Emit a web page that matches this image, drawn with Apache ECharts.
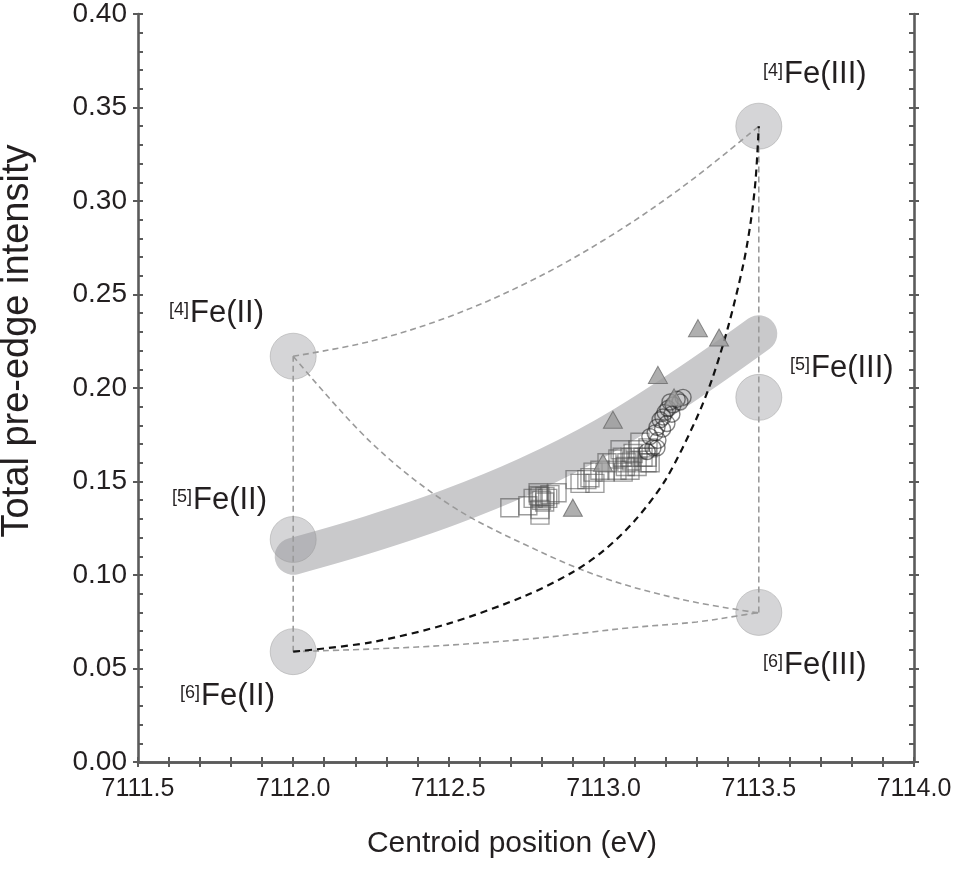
<!DOCTYPE html>
<html>
<head>
<meta charset="utf-8">
<script src="https://cdn.jsdelivr.net/npm/echarts@6/dist/echarts.min.js"></script>
<style>
html,body{margin:0;padding:0;background:#fff;}
#c{width:968px;height:874px;}
</style>
</head>
<body>
<div id="c"></div>
<script>
// ---------- data ----------
const endmemberNames = ['[4]Fe(II)', '[5]Fe(II)', '[6]Fe(II)', '[4]Fe(III)', '[5]Fe(III)', '[6]Fe(III)'];
const endmemberX = [7112.0, 7112.0, 7112.0, 7113.5, 7113.5, 7113.5];
const endmemberY = [0.217, 0.119, 0.059, 0.340, 0.195, 0.080];

// broad grey trend band
const bandX = [7112.0, 7112.25, 7112.5, 7112.75, 7113.0, 7113.25, 7113.5];
const bandY = [0.110, 0.122, 0.136, 0.153, 0.174, 0.200, 0.229];

// mixing lines (grey dashed)
const mix4II_4III_X = [7112.0, 7112.25, 7112.5, 7112.75, 7113.0, 7113.25, 7113.5];
const mix4II_4III_Y = [0.217, 0.225, 0.238, 0.256, 0.279, 0.307, 0.340];
const mix4II_6III_X = [7112.0, 7112.25, 7112.5, 7112.75, 7113.0, 7113.25, 7113.5];
const mix4II_6III_Y = [0.217, 0.171, 0.138, 0.116, 0.0985, 0.087, 0.0797];
const mix6II_6III_X = [7112.0, 7112.4, 7112.76, 7113.08, 7113.30, 7113.43, 7113.5];
const mix6II_6III_Y = [0.059, 0.0615, 0.0658, 0.0717, 0.0749, 0.0781, 0.080];
const edgeIIX = [7112.0, 7112.0];
const edgeIIY = [0.059, 0.217];
const edgeIIIX = [7113.5, 7113.5];
const edgeIIIY = [0.080, 0.340];
// mixing line (black dashed)
const mix6II_4III_X = [7112.0, 7112.25, 7112.5, 7112.75, 7112.9, 7113.0, 7113.1, 7113.2, 7113.3, 7113.35, 7113.4, 7113.45, 7113.475, 7113.49, 7113.5];
const mix6II_4III_Y = [0.059, 0.064, 0.074, 0.089, 0.1015, 0.113, 0.129, 0.151, 0.184, 0.205, 0.232, 0.266, 0.290, 0.312, 0.340];

// samples
const squaresX = [7112.698, 7112.756, 7112.789, 7112.795, 7112.811, 7112.827, 7112.795, 7112.850, 7112.773, 7112.924, 7112.946, 7112.956, 7112.988, 7113.011, 7113.046, 7113.063, 7113.075, 7113.095, 7113.117, 7113.108, 7113.140, 7113.085, 7113.053, 7112.972, 7113.085, 7113.111, 7113.143, 7113.127, 7113.043, 7113.005, 7112.795, 7112.908, 7112.966, 7113.14, 7113.15, 7112.80, 7112.81, 7112.79, 7112.82, 7113.06, 7113.07, 7113.09];
const squaresY = [0.136, 0.137, 0.144, 0.142, 0.142, 0.143, 0.135, 0.144, 0.141, 0.149, 0.151, 0.152, 0.156, 0.160, 0.162, 0.155, 0.160, 0.165, 0.171, 0.158, 0.160, 0.156, 0.167, 0.149, 0.163, 0.167, 0.168, 0.163, 0.156, 0.155, 0.132, 0.151, 0.155, 0.163, 0.160, 0.140, 0.139, 0.1425, 0.141, 0.163, 0.158, 0.161];
const circlesX = [7113.149, 7113.172, 7113.182, 7113.198, 7113.207, 7113.224, 7113.246, 7113.256, 7113.159, 7113.166, 7113.237, 7113.191, 7113.214, 7113.175, 7113.204, 7113.140, 7113.172, 7113.19, 7113.22];
const circlesY = [0.174, 0.179, 0.183, 0.187, 0.189, 0.191, 0.1925, 0.195, 0.168, 0.176, 0.194, 0.1845, 0.1925, 0.172, 0.181, 0.166, 0.168, 0.178, 0.186];
const trianglesX = [7113.304, 7113.372, 7113.175, 7113.030, 7113.227, 7112.998, 7112.901];
const trianglesY = [0.232, 0.227, 0.207, 0.183, 0.195, 0.160, 0.136];

const xMin = 7111.5, xMax = 7114.0, xStep = 0.5;
const yMin = 0.0, yMax = 0.40, yStep = 0.05;

// ---------- helpers ----------
const zip = (xs, ys) => xs.map((x, i) => [x, ys[i]]);
const FONT = '"Liberation Sans", Arial, Helvetica, sans-serif';
const AX = '#5b5b5b';
const TXT = '#231f20';

function axisBase(extra) {
  return Object.assign({
    type: 'value', scale: true,
    splitLine: { show: false },
    axisLine: { show: true, lineStyle: { color: AX, width: 2.6 } },
    axisTick: { show: true, inside: true, length: 5, lineStyle: { color: AX, width: 2 } },
    minorTick: { show: true, splitNumber: 5, length: 5, lineStyle: { color: AX, width: 2 } },
    axisLabel: { show: false },
    z: 10
  }, extra);
}
function outerTicks(extra) {
  return Object.assign({
    type: 'value', scale: true,
    splitLine: { show: false },
    axisLine: { show: false },
    axisTick: { show: true, inside: false, length: 5, lineStyle: { color: AX, width: 2 } },
    minorTick: { show: false },
    axisLabel: { show: false },
    z: 10
  }, extra);
}
const xr = { min: xMin, max: xMax, interval: xStep };
const yr = { min: yMin, max: yMax, interval: yStep };

const greyDash = { color: '#9a9a9a', width: 1.6, type: [6, 4] };

function lineSeries(xs, ys, style, z, smooth) {
  return { type: 'line', data: zip(xs, ys), symbol: 'none', smooth: smooth == null ? 0.35 : smooth,
    lineStyle: style, z: z, silent: true, animation: false };
}

const chart = echarts.init(document.getElementById('c'), null, { renderer: 'canvas' });

const labels = [
  { sup: '[4]', main: 'Fe(II)', x: 169, y: 313 },
  { sup: '[5]', main: 'Fe(II)', x: 172, y: 500 },
  { sup: '[6]', main: 'Fe(II)', x: 180, y: 696 },
  { sup: '[4]', main: 'Fe(III)', x: 763, y: 74 },
  { sup: '[5]', main: 'Fe(III)', x: 790, y: 368 },
  { sup: '[6]', main: 'Fe(III)', x: 763, y: 665 }
];
const graphics = [];
labels.forEach(l => {
  graphics.push({ type: 'text', left: l.x, top: l.y - 12, z: 50,
    style: { text: l.sup, font: '18px ' + FONT, fill: TXT } });
  graphics.push({ type: 'text', left: l.x + 21, top: l.y - 15, z: 50,
    style: { text: l.main, font: '31px ' + FONT, fill: TXT } });
});

chart.setOption({
  animation: false,
  backgroundColor: '#ffffff',
  grid: { left: 138, right: 54, top: 14, bottom: 112, containLabel: false, outerBoundsMode: 'none' },
  xAxis: [
    axisBase(Object.assign({ position: 'bottom',
      axisLabel: { show: true, margin: 15, fontSize: 25, fontFamily: FONT, color: TXT,
        formatter: v => v.toFixed(1) },
      name: 'Centroid position (eV)', nameLocation: 'middle', nameGap: 67,
      nameTextStyle: { fontSize: 30, fontFamily: FONT, color: TXT, padding: [0, 28, 0, 0] } }, xr)),
    axisBase(Object.assign({ position: 'top' }, xr)),
    outerTicks(Object.assign({ position: 'bottom' }, xr)),
    outerTicks(Object.assign({ position: 'top' }, xr))
  ],
  yAxis: [
    axisBase(Object.assign({ position: 'left',
      axisLabel: { show: true, margin: 11, fontSize: 28, fontFamily: FONT, color: TXT,
        formatter: v => v.toFixed(2) },
      name: 'Total pre-edge intensity', nameLocation: 'middle', nameGap: 101,
      nameTextStyle: { fontSize: 38, fontFamily: FONT, color: TXT, padding: [0, 0, 0, 94] } }, yr)),
    axisBase(Object.assign({ position: 'right' }, yr)),
    outerTicks(Object.assign({ position: 'left' }, yr)),
    outerTicks(Object.assign({ position: 'right' }, yr))
  ],
  series: [
    { type: 'line', data: zip(bandX, bandY), symbol: 'none', smooth: 0.4, silent: true,
      lineStyle: { color: '#c9c9cb', width: 37, cap: 'round', join: 'round' }, z: 1 },
    { type: 'scatter', data: zip(endmemberX, endmemberY), symbol: 'circle', symbolSize: 46, silent: true,
      itemStyle: { color: 'rgba(150,150,156,0.5)', borderColor: 'rgba(150,150,150,0.55)', borderWidth: 1 }, z: 2 },
    lineSeries(mix4II_4III_X, mix4II_4III_Y, greyDash, 3),
    lineSeries(mix4II_6III_X, mix4II_6III_Y, greyDash, 3),
    lineSeries(mix6II_6III_X, mix6II_6III_Y, greyDash, 3),
    lineSeries(edgeIIX, edgeIIY, greyDash, 3, false),
    lineSeries(edgeIIIX, edgeIIIY, greyDash, 3, false),
    lineSeries(mix6II_4III_X, mix6II_4III_Y, { color: '#111111', width: 2.2, type: [7, 5] }, 4, 0.3),
    { type: 'scatter', data: zip(squaresX, squaresY), symbol: 'rect', symbolSize: 18, silent: true,
      itemStyle: { color: 'rgba(255,255,255,0)', borderColor: 'rgba(85,85,85,0.72)', borderWidth: 1.4 }, z: 5 },
    { type: 'scatter', data: zip(circlesX, circlesY), symbol: 'circle', symbolSize: 16, silent: true,
      itemStyle: { color: 'rgba(255,255,255,0)', borderColor: 'rgba(35,35,35,0.7)', borderWidth: 1.4 }, z: 6 },
    { type: 'scatter', data: zip(trianglesX, trianglesY), symbol: 'triangle', symbolSize: [19, 17], silent: true,
      itemStyle: { color: '#9b9b9b', borderColor: '#6a6a6a', borderWidth: 1 }, z: 7 }
  ],
  graphic: graphics
});
</script>
</body>
</html>
